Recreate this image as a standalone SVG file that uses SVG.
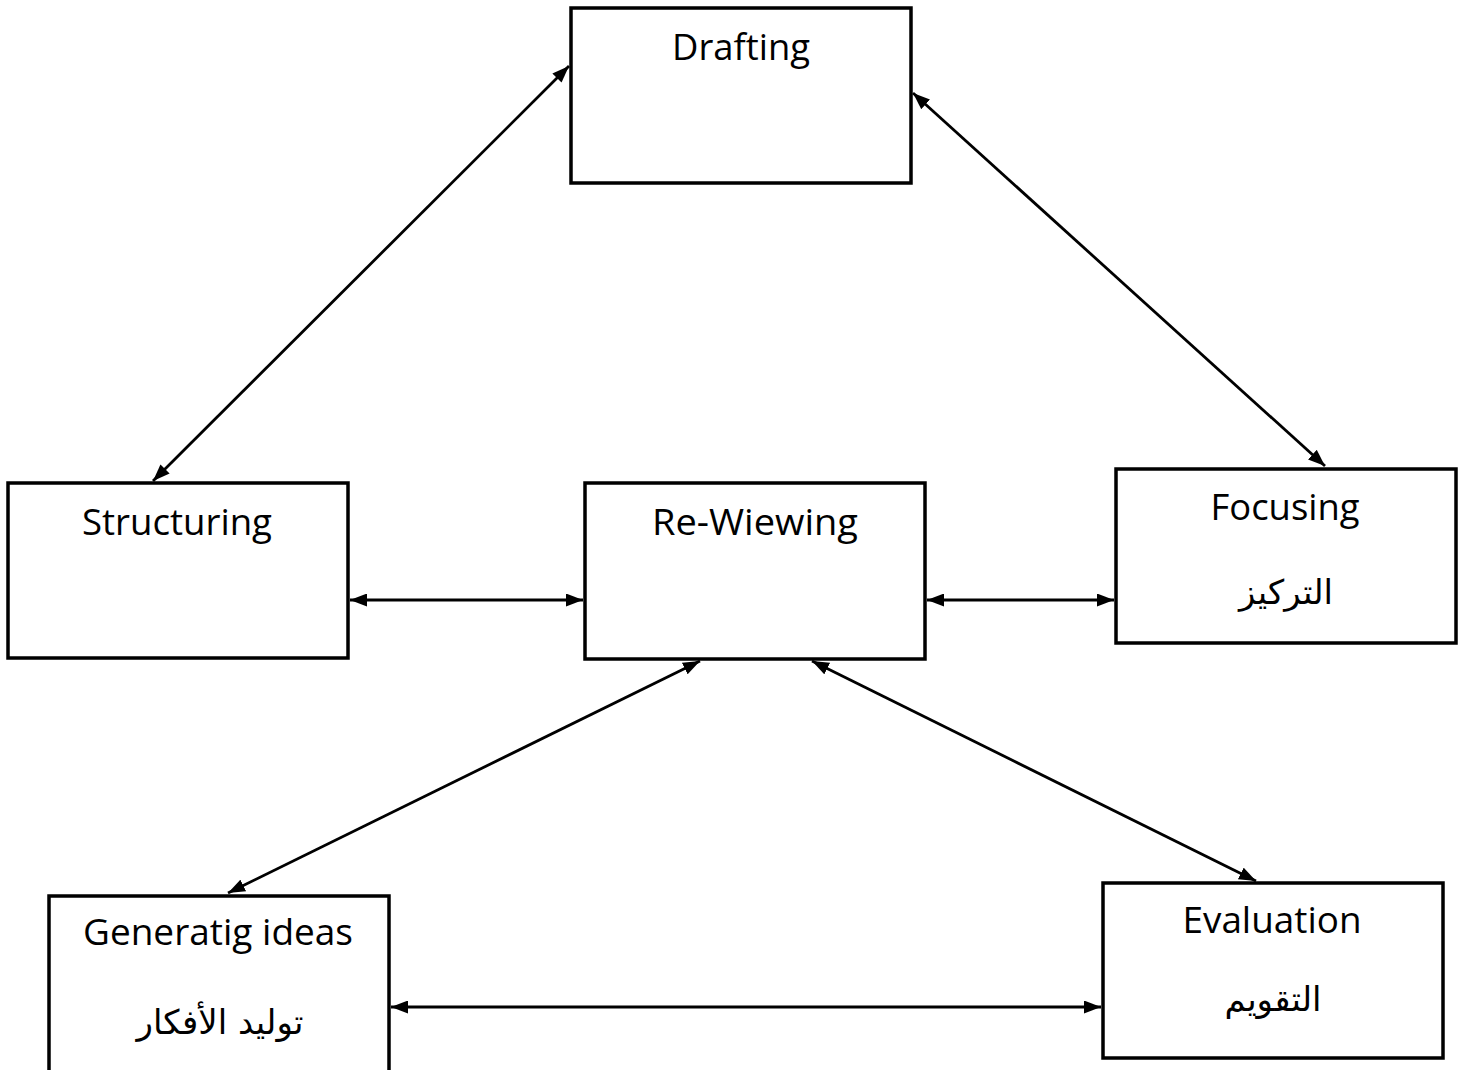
<svg xmlns="http://www.w3.org/2000/svg" width="1469" height="1070" viewBox="0 0 1469 1070">
<style>
.box{fill:#fff;stroke:#000;stroke-width:3.5}
.en{font-family:"Open Sans","Liberation Sans",sans-serif;font-size:36px;fill:#000;text-anchor:middle}
.ar{font-family:"DejaVu Sans","Noto Sans",sans-serif;font-size:34px;fill:#000;text-anchor:middle}
.conn line{stroke:#000;stroke-width:2.8;marker-start:url(#ah);marker-end:url(#ah)}
</style>
<defs>
<marker id="ah" viewBox="0 0 17 13" refX="17" refY="6.5" markerWidth="17" markerHeight="13" markerUnits="userSpaceOnUse" orient="auto-start-reverse">
<path d="M0,0 L17,6.5 L0,13 Z" fill="#000"/>
</marker>
</defs>
<rect width="1469" height="1070" fill="#fff"/>
<g id="drafting"><rect class="box" x="571" y="8" width="340" height="175"/><text class="en" x="741" y="60" textLength="138" lengthAdjust="spacingAndGlyphs">Drafting</text></g>
<g id="structuring"><rect class="box" x="8" y="483" width="340" height="175"/><text class="en" x="177" y="535" textLength="190" lengthAdjust="spacingAndGlyphs">Structuring</text></g>
<g id="reviewing"><rect class="box" x="585" y="483" width="340" height="176"/><text class="en" x="755" y="535" textLength="206" lengthAdjust="spacingAndGlyphs">Re-Wiewing</text></g>
<g id="focusing"><rect class="box" x="1116" y="469" width="340" height="174"/><text class="en" x="1285" y="520" textLength="149" lengthAdjust="spacingAndGlyphs">Focusing</text><text class="ar" x="1286" y="604" direction="rtl">التركيز</text></g>
<g id="generating"><rect class="box" x="49" y="896" width="340" height="176"/><text class="en" x="218" y="945" textLength="270" lengthAdjust="spacingAndGlyphs">Generatig ideas</text><text class="ar" x="220" y="1034" direction="rtl">توليد الأفكار</text></g>
<g id="evaluation"><rect class="box" x="1103" y="883" width="340" height="175"/><text class="en" x="1272" y="933" textLength="179" lengthAdjust="spacingAndGlyphs">Evaluation</text><text class="ar" x="1273" y="1011" direction="rtl">التقويم</text></g>
<g class="conn" id="connectors">
<line x1="569" y1="66" x2="153" y2="481"/>
<line x1="913" y1="93" x2="1325" y2="466"/>
<line x1="350" y1="600" x2="583" y2="600"/>
<line x1="927" y1="600" x2="1114" y2="600"/>
<line x1="700" y1="661" x2="228" y2="893"/>
<line x1="812" y1="661" x2="1256" y2="881"/>
<line x1="391" y1="1007" x2="1101" y2="1007"/>
</g>
</svg>
